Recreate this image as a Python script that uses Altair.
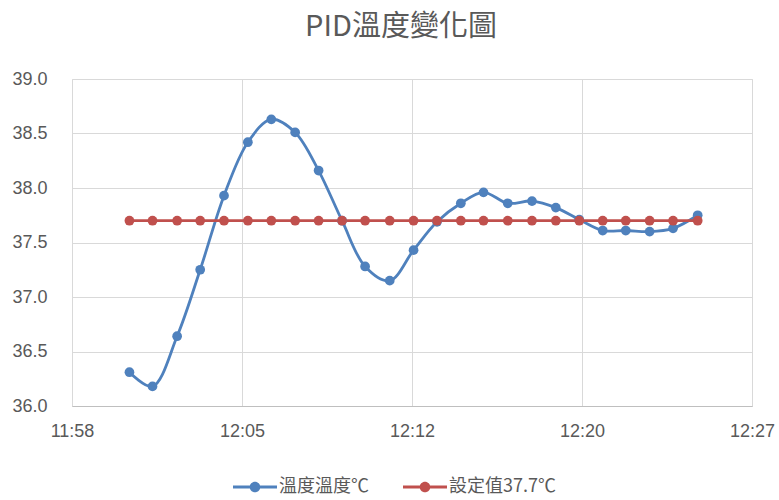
import altair as alt
import pandas as pd

# ---- data ----
times = ["12:00:27", "12:01:26", "12:02:29", "12:03:28", "12:04:29", "12:05:30",
         "12:06:30", "12:07:31", "12:08:31", "12:09:31", "12:10:30", "12:11:33",
         "12:12:34", "12:13:34", "12:14:35", "12:15:33", "12:16:35", "12:17:37",
         "12:18:38", "12:19:38", "12:20:38", "12:21:37", "12:22:38", "12:23:38",
         "12:24:41"]
temperature = [36.31, 36.18, 36.64, 37.25, 37.93, 38.42, 38.63, 38.51, 38.16,
               37.70, 37.28, 37.15, 37.43, 37.69, 37.86, 37.96, 37.86, 37.88,
               37.82, 37.71, 37.61, 37.61, 37.60, 37.63, 37.75]
setpoint = [37.7] * 25
series_names = ["溫度溫度℃", "設定值37.7℃"]
series_colors = ["#4F81BD", "#C0504D"]
x_tick_labels = ["11:58", "12:05", "12:12", "12:20", "12:27"]
x_tick_values = [0, 7.25, 14.5, 21.75, 29]
y_ticks = [36.0, 36.5, 37.0, 37.5, 38.0, 38.5, 39.0]
title_text = "PID溫度變化圖"


def to_minutes(t):
    h, m, s = (int(p) for p in t.split(":"))
    return h * 60 + m + s / 60 - (11 * 60 + 58)


mins = [to_minutes(t) for t in times]
rows = []
for name, vals in zip(series_names, [temperature, setpoint]):
    for i, (mn, v) in enumerate(zip(mins, vals)):
        rows.append({"t": mn, "v": v, "s": name, "order": i})
df = pd.DataFrame(rows)

GREY = "#595959"
GRID = "#D9D9D9"
LATIN = "Liberation Sans"
CJK = "Noto Sans CJK TC"

label_expr = "[" + ",".join(f"'{l}'" for l in x_tick_labels) + "][round(datum.value / 7.25)]"

x = alt.X("t:Q", scale=alt.Scale(domain=[0, 29], nice=False, zero=False),
          axis=alt.Axis(values=x_tick_values, labelExpr=label_expr, title=None,
                        grid=True, gridColor=GRID, gridWidth=1, ticks=False,
                        domainColor="#BFBFBF", domainWidth=1,
                        labelFont=LATIN, labelFontSize=18, labelColor=GREY,
                        labelPadding=16, labelFlush=False, labelOverlap=False))
y = alt.Y("v:Q", scale=alt.Scale(domain=[36, 39], nice=False, zero=False),
          axis=alt.Axis(values=y_ticks, format=".1f", title=None,
                        grid=True, gridColor=GRID, gridWidth=1, ticks=False,
                        domain=False, labelFont=LATIN, labelFontSize=18,
                        labelColor=GREY, labelPadding=25))

blue = df[df.s == series_names[0]]
red = df[df.s == series_names[1]]

line_blue = alt.Chart(blue).mark_line(interpolate="catmull-rom", strokeWidth=2.8,
                                      color=series_colors[0]).encode(x=x, y=y, order="order:Q")
line_red = alt.Chart(red).mark_line(strokeWidth=2.8,
                                    color=series_colors[1]).encode(x=x, y=y, order="order:Q")

sym_path = ("M-1,-0.065L1,-0.065L1,0.065L-1,0.065Z"
            "M0.24,0A0.24,0.24,0,1,1,-0.24,0A0.24,0.24,0,1,1,0.24,0Z")

points = alt.Chart(df).mark_point(filled=True, size=95, opacity=1).encode(
    x=x, y=y,
    color=alt.Color("s:N",
                    scale=alt.Scale(domain=series_names, range=series_colors),
                    sort=series_names,
                    legend=alt.Legend(title=None, orient="none", direction="horizontal",
                                      legendX=161, legendY=386,
                                      symbolType=sym_path, symbolSize=1936,
                                      symbolStrokeWidth=0, symbolOpacity=1,
                                      labelFont=CJK, labelFontSize=18,
                                      labelColor=GREY, labelOffset=2,
                                      columnPadding=34, padding=0)),
)

chart = alt.layer(line_blue, line_red, points).properties(
    width=680, height=327,
    title=alt.TitleParams(title_text, font=CJK, fontSize=29, fontWeight="normal",
                          color=GREY, anchor="middle", dx=-11, offset=28),
    autosize=alt.AutoSizeParams(type="none"),
    padding={"left": 72, "top": 79, "right": 27, "bottom": 94},
).configure_view(stroke=None).configure(background="white")

chart.save("out.html", embed_options={"renderer": "svg", "actions": False})
